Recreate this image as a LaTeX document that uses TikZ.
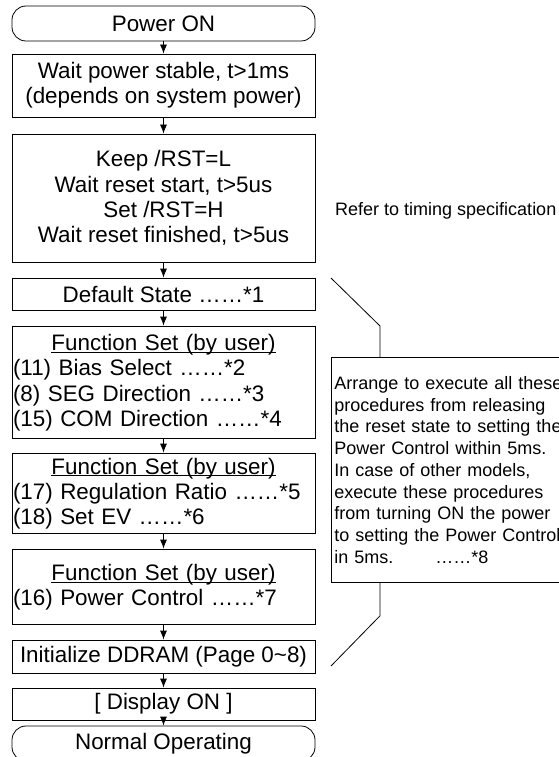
\documentclass[tikz,border=0pt]{standalone}
\usepackage{fontspec}
\setmainfont{Liberation Sans}
\usetikzlibrary{arrows.meta}

\tikzset{
    stepbox/.style={draw, line width=0.8pt, minimum width=303pt, inner sep=1pt, align=center},
    endbox/.style={stepbox, rounded corners=14pt},
    listbox/.style={stepbox, text width=301pt, align=left},
    flow/.style={-{Latex[length=9pt,width=7pt]}, line width=0.8pt},
    notefont/.style={font=\fontsize{18}{21.75}\selectfont}
}
\newcommand{\fstitle}{\makebox[301pt]{\strut\underline{\smash{Function Set (by user)}}}}

\begin{document}
\begin{tikzpicture}[x=1pt, y=-1pt, font=\fontsize{22.4}{25.3}\selectfont]
    \useasboundingbox (0,0) rectangle (558,757);

    % Main flow, top to bottom
    \node[endbox, minimum height=35pt] (pon) at (163.5,23.5) {Power ON};
    \node[stepbox, minimum height=63pt] (wait) at (163.5,85.5)
        {Wait power stable, t>1ms\\(depends on system power)};
    \node[stepbox, minimum height=128pt] (keep) at (163.5,198)
        {Keep /RST=L\\Wait reset start, t>5us\\Set /RST=H\\Wait reset finished, t>5us};
    \node[stepbox, minimum height=32pt] (dflt) at (163.5,294) {Default State ……*1};
    \node[listbox, minimum height=112pt] (fs1) at (163.5,382)
        {\fstitle\\(11) Bias Select ……*2\\(8) SEG Direction ……*3\\(15) COM Direction ……*4};
    \node[listbox, minimum height=80pt] (fs2) at (163.5,493)
        {\fstitle\\(17) Regulation Ratio ……*5\\(18) Set EV ……*6};
    \node[listbox, minimum height=75pt] (fs3) at (163.5,586.5)
        {\fstitle\\(16) Power Control ……*7};
    \node[stepbox, minimum height=33pt] (init) at (163.5,656.5)
        {Initialize DDRAM (Page 0\textasciitilde 8)};
    \node[stepbox, minimum height=32pt] (disp) at (163.5,704) {[ Display ON ]};
    \node[endbox, minimum height=35pt] (norm) at (163.5,743.5) {Normal Operating};

    % Arrows between the steps
    \draw[flow] (pon) -- (wait);
    \draw[flow] (wait) -- (keep);
    \draw[flow] (keep) -- (dflt);
    \draw[flow] (dflt) -- (fs1);
    \draw[flow] (fs1) -- (fs2);
    \draw[flow] (fs2) -- (fs3);
    \draw[flow] (fs3) -- (init);
    \draw[flow] (init) -- (disp);
    \draw[flow] (disp) -- (norm);

    % Remarks on the right
    \node[notefont, anchor=west, inner sep=0pt] (refer) at (335,211) {Refer to timing specification};
    \node[draw, line width=0.8pt, notefont, anchor=north west, minimum height=225pt,
          text width=233pt, inner xsep=3pt, align=left] (note) at (331,357)
        {Arrange to execute all these\\procedures from releasing\\the reset state to setting the\\Power Control within 5ms.\\In case of other models,\\execute these procedures\\from turning ON the power\\to setting the Power Control\\in 5ms.\hspace{42pt}……*8};

    % Bracket lines to the note
    \coordinate (ctop) at (331,278);
    \coordinate (cbot) at (331,666);
    \draw[line width=0.8pt] (ctop) -- ++(49,48) -- ([xshift=49pt]note.north west);
    \draw[line width=0.8pt] ([xshift=49pt]note.south west) -- ++(0,33) -- (cbot);

\end{tikzpicture}
\end{document}
